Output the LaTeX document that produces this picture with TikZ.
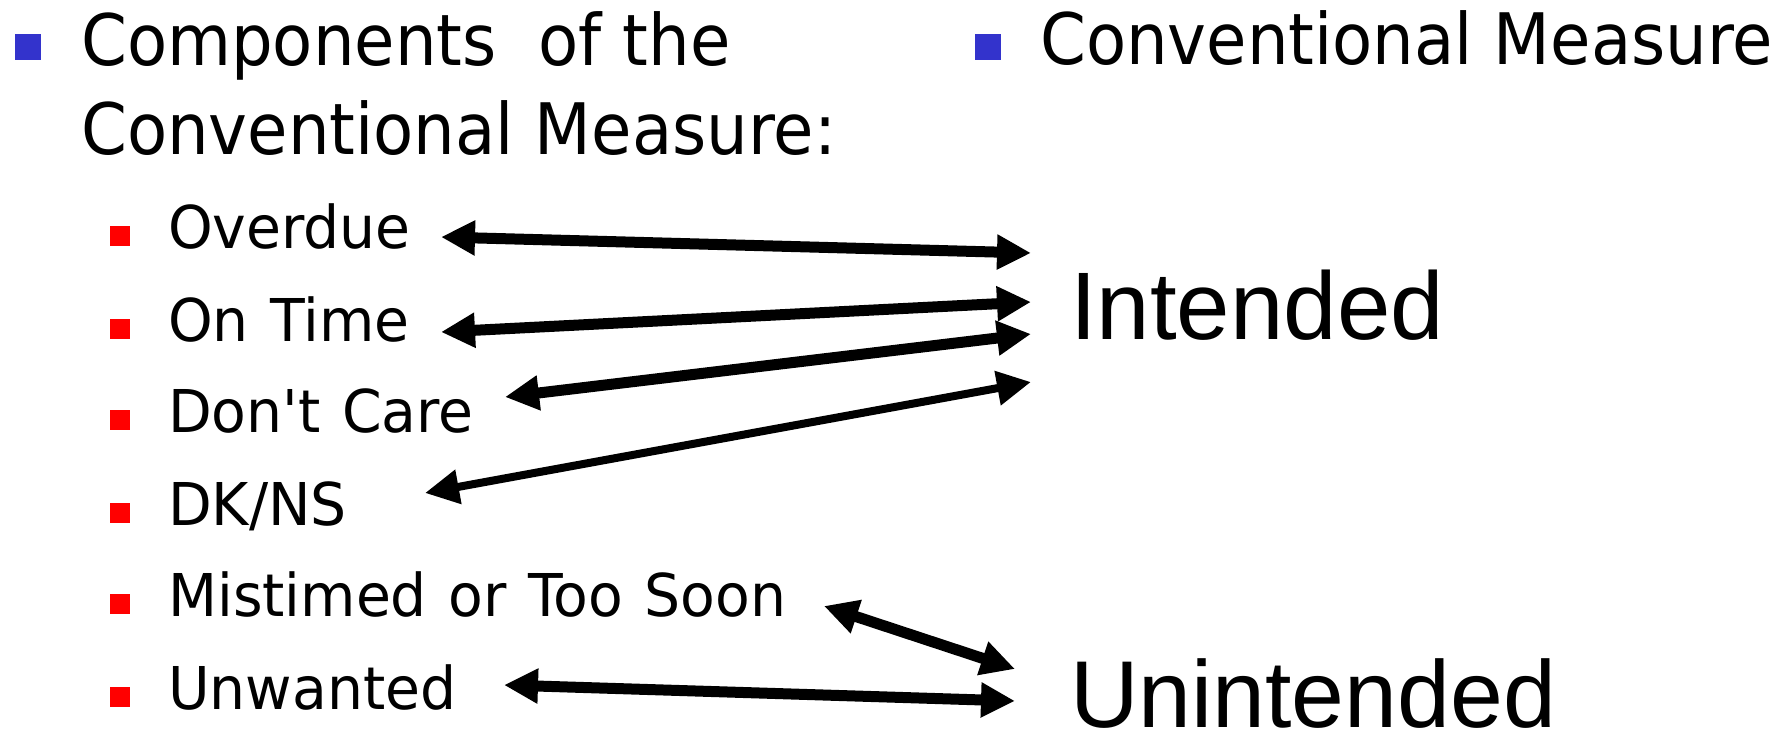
\documentclass[tikz,border=0pt]{standalone}
\usepackage{fontspec}
\newfontfamily\titlefont{DejaVu Sans}[FakeStretch=0.925]
\newfontfamily\itemfont{DejaVu Sans}[FakeStretch=0.963, WordSpace=1.2]
\newfontfamily\arialf{Liberation Sans}
\usetikzlibrary{arrows.meta}
\definecolor{bulletblue}{RGB}{51,51,204}
\definecolor{bulletred}{RGB}{255,0,0}
\begin{document}
\begin{tikzpicture}[x=1pt,y=-1pt,
  titletext/.style={anchor=base west, inner sep=0pt, font=\titlefont\fontsize{71}{85}\selectfont},
  itemtext/.style={anchor=base west, inner sep=0pt, font=\itemfont\fontsize{59}{70}\selectfont},
  bigtext/.style={anchor=base west, inner sep=0pt, font=\arialf\fontsize{96}{110}\selectfont},
  bblue/.style={fill=bulletblue, minimum size=26pt, inner sep=0pt},
  bred/.style={fill=bulletred, minimum size=20pt, inner sep=0pt},
  link/.style={{Triangle[length=34pt,width=33pt]}-{Triangle[length=34pt,width=33pt]}, line width=11pt},
  thinlink/.style={link, line width=8pt},
]
\useasboundingbox (0,0) rectangle (1782,736);
% titles
\node[bblue] (b1) at (27.5,47) {};
\node[titletext] (t1) at (81,65) {Components\ \ of the};
\node[titletext] (t2) at (81,154) {Conventional Measure:};
\node[bblue] (b2) at (988,47) {};
\node[titletext] (t3) at (1040,64) {Conventional Measure};
% items
\node[bred] (r1) at (120,236) {};
\node[bred] (r2) at (120,329) {};
\node[bred] (r3) at (120,420) {};
\node[bred] (r4) at (120,513) {};
\node[bred] (r5) at (120,604) {};
\node[bred] (r6) at (120,697) {};
\node[itemtext] (i1) at (168,248) {Overdue};
\node[itemtext] (i2) at (168,341) {On Time};
\node[itemtext] (i3) at (168,432) {Don't Care};
\node[itemtext] (i4) at (168,525) {DK/NS};
\node[itemtext] (i5) at (168,616) {Mistimed or Too Soon};
\node[itemtext] (i6) at (168,709) {Unwanted};
% targets
\node[bigtext] (int) at (1070,339) {Intended};
\node[bigtext, font=\arialf\fontsize{95}{110}\selectfont] (unint) at (1070,727) {Unintended};
% arrow end points
\coordinate (a1l) at (441,237); \coordinate (a1r) at (1031,253);
\coordinate (a2l) at (441,332); \coordinate (a2r) at (1031,302);
\coordinate (a3l) at (505,397); \coordinate (a3r) at (1031,334);
\coordinate (a4l) at (425,493); \coordinate (a4r) at (1031,382);
\coordinate (a5l) at (824,606); \coordinate (a5r) at (1015,669);
\coordinate (a6l) at (504,685); \coordinate (a6r) at (1015,701);
\draw[link] (a1l) -- (a1r);
\draw[link] (a2l) -- (a2r);
\draw[link] (a3l) -- (a3r);
\draw[thinlink] (a4l) -- (a4r);
\draw[link] (a5l) -- (a5r);
\draw[link] (a6l) -- (a6r);
\end{tikzpicture}
\end{document}
